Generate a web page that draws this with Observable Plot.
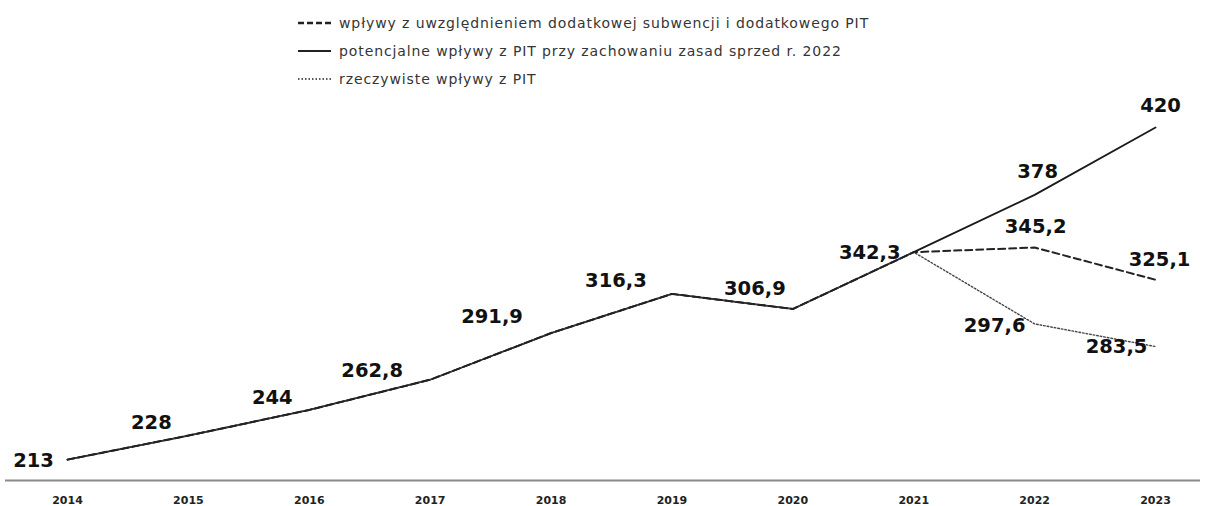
<!DOCTYPE html>
<html><head><meta charset="utf-8">
<script src="https://cdn.jsdelivr.net/npm/d3@7"></script>
<script src="https://cdn.jsdelivr.net/npm/@observablehq/plot@0.6"></script>
<style>
body{margin:0;background:#fff;}
#wrap{position:relative;width:1205px;height:506px;overflow:hidden;}
#legend{position:absolute;left:298px;top:9px;font-family:"DejaVu Sans",sans-serif;font-size:14px;letter-spacing:0.9px;color:#353535;}
.row{display:flex;align-items:center;height:28px;}
.row svg{margin-right:8px;}
</style></head><body>
<div id="wrap"><div id="chart"></div><div id="legend"></div></div>
<script>
const years = [2014, 2015, 2016, 2017, 2018, 2019, 2020, 2021, 2022, 2023];
const zSubwencja = [213, 228, 244, 262.8, 291.9, 316.3, 306.9, 342.3, 345.2, 325.1];
const potencjalne = [213, 228, 244, 262.8, 291.9, 316.3, 306.9, 342.3, 378, 420];
const rzeczywiste = [213, 228, 244, 262.8, 291.9, 316.3, 306.9, 342.3, 297.6, 283.5];
const seriesNames = [
  "wpływy z uwzględnieniem dodatkowej subwencji i dodatkowego PIT",
  "potencjalne wpływy z PIT przy zachowaniu zasad sprzed r. 2022",
  "rzeczywiste wpływy z PIT"
];

// layout (label offsets in px), not data
const labelOffsets = {
  "pot": [[-34,1],[-37,-13],[-37,-12],[-58,-9],[-59,-16],[-56,-13],[-38,-20],[-44,1],[3,-23],[5,-22]],
  "sub": [null,null,null,null,null,null,null,null,[1,-21],[4,-20]],
  "rz":  [null,null,null,null,null,null,null,null,[-40,2],[-39,0]]
};

const fmt = v => String(v).replace(".", ",");
const mk = (vals, key) => years.map((y, i) => ({year: y, value: vals[i], key}));
const dSub = mk(zSubwencja, "sub");
const dPot = mk(potencjalne, "pot");
const dRz = mk(rzeczywiste, "rz");
const labels = [...dPot, ...dSub, ...dRz]
  .map(d => ({...d, off: labelOffsets[d.key][years.indexOf(d.year)]}))
  .filter(d => d.off);

const textMark = d => Plot.text([d], {
  x: "year", y: "value", text: x => fmt(x.value),
  dx: d.off[0], dy: d.off[1],
  fontFamily: "DejaVu Sans", fontWeight: "bold", fontSize: 19.5, fill: "#111"
});

const chart = Plot.plot({
  width: 1205, height: 506,
  marginLeft: 5, marginRight: 5, marginTop: 127, marginBottom: 26,
  x: {type: "linear", domain: [2013.487, 2023.372], label: null},
  y: {domain: [200, 420], axis: null},
  style: {background: "white"},
  marks: [
    Plot.ruleY([200], {stroke: "#8a8a8a", strokeWidth: 2.2}),
    Plot.axisX({ticks: years, tickFormat: d => String(d), tickSize: 0, tickPadding: 16, label: null,
      fontSize: 11, fontWeight: "bold", fontFamily: "DejaVu Sans", fill: "#222"}),
    Plot.lineY(dPot, {x: "year", y: "value", stroke: "#1a1a1a", strokeWidth: 1.8}),
    Plot.lineY(dRz, {x: "year", y: "value", stroke: "#444", strokeWidth: 1.4, strokeDasharray: "1.6,2"}),
    Plot.lineY(dSub, {x: "year", y: "value", stroke: "#222", strokeWidth: 2, strokeDasharray: "7,4"}),
    ...labels.map(textMark)
  ]
});
document.getElementById("chart").appendChild(chart);

const dashes = ["6,3", null, "1.5,2"];
const widths = [2.4, 2, 1.5];
const leg = document.getElementById("legend");
seriesNames.forEach((name, i) => {
  const row = document.createElement("div");
  row.className = "row";
  row.innerHTML = `<svg width="33" height="6"><line x1="0" y1="3" x2="33" y2="3" stroke="#222" stroke-width="${widths[i]}" ${dashes[i] ? `stroke-dasharray="${dashes[i]}"` : ""}/></svg><span>${name}</span>`;
  leg.appendChild(row);
});
</script>
</body></html>
